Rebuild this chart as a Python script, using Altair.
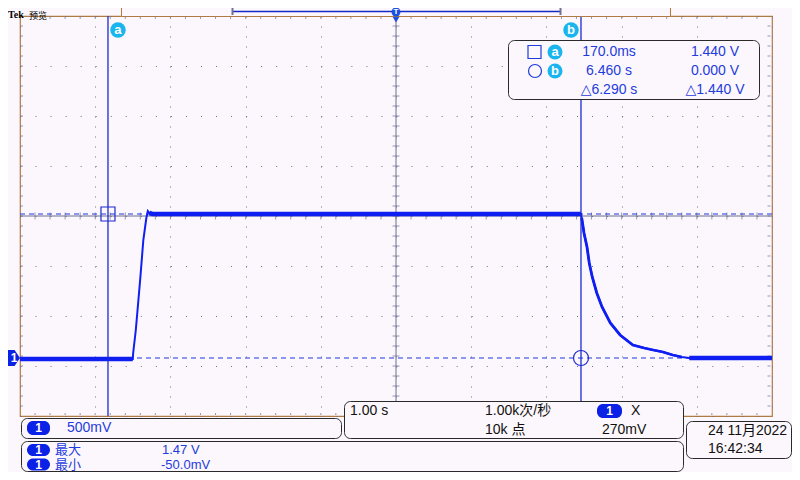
import altair as alt
import pandas as pd

# ---------------- data read from the screen ----------------
# channel 1 trace (time in s, relative to left edge -1 s; volts)
time_s = [-1.00, 0.50, 0.505, 0.54, 0.60, 0.64, 0.68, 0.70, 0.72, 0.76,
          6.46, 6.47, 6.50, 6.54, 6.57, 6.61, 6.67, 6.74, 6.85, 6.98,
          7.15, 7.30, 7.42, 7.55, 7.68, 7.80, 7.90, 9.00]
volts = [-0.01, -0.01, 0.05, 0.28, 0.80, 1.18, 1.40, 1.47, 1.45, 1.44,
         1.44, 1.40, 1.25, 1.11, 0.95, 0.81, 0.65, 0.51, 0.35, 0.23,
         0.13, 0.10, 0.08, 0.06, 0.03, 0.01, 0.00, 0.00]
phase = ["low", "low", "rise", "rise", "rise", "rise", "rise", "rise", "high", "high",
         "high", "fall", "fall", "fall", "fall", "fall", "fall", "fall", "fall", "fall",
         "fall", "fall", "fall", "fall", "fall", "fall", "settled", "settled"]

# cursors
cursor_name = ["a", "b"]
cursor_time_s = [0.17, 6.46]
cursor_volts = [1.44, 0.00]

# graticule: 1 s/div, 500 mV/div, 10 x 8 divisions
center_time_s = 4.0
center_volts = 1.42
sec_per_div = 1.0
volt_per_div = 0.5
x_domain = [-1.0, 9.0]
y_domain = [-0.58, 3.42]

# texts
readout_time = ["170.0ms", "6.460 s", "\u25b36.290 s"]
readout_volt = ["1.440 V", "0.000 V", "\u25b31.440 V"]
scale_text = "500mV"
horiz_text = ["1.00 s", "1.00k次/秒", "10k 点", "270mV"]
trig_symbol = "X"
meas_name = ["最大", "最小"]
meas_value = ["1.47 V", "-50.0mV"]
date_text = ["24 11月2022", "16:42:34"]
title_brand = "Tek"
title_mode = "预览"

# ---------------- styles / layout ----------------
W, H = 752, 400
BG = "#FCF7FC"
BORDER = "#B07A45"
GRID = "#6C7090"
TRACE = "#0F1FF2"
CURSOR = "#1B2BD0"
DASH = "#2038E0"
TXT_BLUE = "#1E3CDC"
CYAN = "#19B5EE"
BADGE = "#0B22E6"
BOX = "#2A2A2A"
INK = "#111111"
FONT = "Liberation Sans, DejaVu Sans, Noto Sans CJK SC"

XS = alt.Scale(domain=x_domain, nice=False, zero=False)
YS = alt.Scale(domain=y_domain, nice=False, zero=False)
NOAX = None

trace = pd.DataFrame({"t": time_s, "v": volts, "phase": phase})
cursors = pd.DataFrame({"name": cursor_name, "t": cursor_time_s, "v": cursor_volts})

x_grid = [center_time_s + sec_per_div * k for k in range(-5, 6)]
y_grid = [center_volts + volt_per_div * k for k in range(-4, 5)]

layers = []

# graticule (axis grids)
layers.append(
    alt.Chart(trace).mark_point(opacity=0).encode(
        x=alt.X("t:Q", scale=XS, axis=alt.Axis(values=x_grid, grid=True, gridDash=[1, 9],
                                                gridColor=GRID, gridOpacity=1, gridWidth=1,
                                                labels=False, ticks=False, domain=False, title=None)),
        y=alt.Y("v:Q", scale=YS, axis=alt.Axis(values=y_grid, grid=True, gridDash=[1, 14.04],
                                                gridColor=GRID, gridOpacity=1, gridWidth=1,
                                                labels=False, ticks=False, domain=False, title=None)),
    )
)

# center cross lines
layers.append(alt.Chart(pd.DataFrame({"t": [center_time_s]})).mark_rule(color=GRID, strokeWidth=1)
              .encode(x=alt.X("t:Q", scale=XS, axis=NOAX)))
layers.append(alt.Chart(pd.DataFrame({"v": [center_volts]})).mark_rule(color=GRID, strokeWidth=1)
              .encode(y=alt.Y("v:Q", scale=YS, axis=NOAX)))

minor_v = [center_volts + volt_per_div / 5 * k for k in range(-19, 20)]
minor_t = [center_time_s + sec_per_div / 5 * k for k in range(-24, 25)]
layers.append(alt.Chart(pd.DataFrame({"v": minor_v, "t": center_time_s}))
              .mark_tick(orient="horizontal", size=7, thickness=1, color=GRID)
              .encode(x=alt.X("t:Q", scale=XS, axis=NOAX), y=alt.Y("v:Q", scale=YS, axis=NOAX)))
layers.append(alt.Chart(pd.DataFrame({"t": minor_t, "v": center_volts}))
              .mark_tick(orient="vertical", size=7, thickness=1, color=GRID)
              .encode(x=alt.X("t:Q", scale=XS, axis=NOAX), y=alt.Y("v:Q", scale=YS, axis=NOAX)))
# edge ticks
layers.append(alt.Chart(pd.DataFrame({"t": minor_t, "v": y_domain[1]}))
              .mark_tick(orient="vertical", size=2, thickness=1, color=GRID, yOffset=2)
              .encode(x=alt.X("t:Q", scale=XS, axis=NOAX), y=alt.Y("v:Q", scale=YS, axis=NOAX)))
layers.append(alt.Chart(pd.DataFrame({"t": minor_t, "v": y_domain[0]}))
              .mark_tick(orient="vertical", size=2, thickness=1, color=GRID, yOffset=-2)
              .encode(x=alt.X("t:Q", scale=XS, axis=NOAX), y=alt.Y("v:Q", scale=YS, axis=NOAX)))
layers.append(alt.Chart(pd.DataFrame({"v": minor_v, "t": x_domain[0]}))
              .mark_tick(orient="horizontal", size=2, thickness=1, color=GRID, xOffset=2)
              .encode(x=alt.X("t:Q", scale=XS, axis=NOAX), y=alt.Y("v:Q", scale=YS, axis=NOAX)))
layers.append(alt.Chart(pd.DataFrame({"v": minor_v, "t": x_domain[1]}))
              .mark_tick(orient="horizontal", size=3, thickness=1, color=GRID, xOffset=-3)
              .encode(x=alt.X("t:Q", scale=XS, axis=NOAX), y=alt.Y("v:Q", scale=YS, axis=NOAX)))

# horizontal cursor (dashed) lines
layers.append(alt.Chart(cursors).mark_rule(color=DASH, strokeWidth=1.2, strokeDash=[5, 4])
              .encode(y=alt.Y("v:Q", scale=YS, axis=NOAX)))

# trace
layers.append(alt.Chart(trace).mark_line(color=TRACE, strokeWidth=2.0, interpolate="linear")
              .encode(x=alt.X("t:Q", scale=XS, axis=NOAX), y=alt.Y("v:Q", scale=YS, axis=NOAX),
                      order="t:Q"))
layers.append(alt.Chart(trace).transform_filter(
    alt.FieldOneOfPredicate(field="phase", oneOf=["fall"]))
    .mark_line(color=TRACE, strokeWidth=2.8)
    .encode(x=alt.X("t:Q", scale=XS, axis=NOAX), y=alt.Y("v:Q", scale=YS, axis=NOAX), order="t:Q"))
layers.append(alt.Chart(trace).transform_filter(
    alt.FieldOneOfPredicate(field="phase", oneOf=["low", "high", "settled"]))
    .mark_line(color=TRACE, strokeWidth=4.5)
    .encode(x=alt.X("t:Q", scale=XS, axis=NOAX), y=alt.Y("v:Q", scale=YS, axis=NOAX),
            detail="phase:N", order="t:Q"))

# vertical cursor lines
layers.append(alt.Chart(cursors).mark_rule(color=CURSOR, strokeWidth=1.3)
              .encode(x=alt.X("t:Q", scale=XS, axis=NOAX)))

# cursor intersection markers
for nm, shp, sz in [("a", "square", 196), ("b", "circle", 225)]:
    layers.append(alt.Chart(cursors).transform_filter(alt.datum.name == nm)
                  .mark_point(shape=shp, size=sz, filled=False, color=CURSOR, strokeWidth=1.2, opacity=1)
                  .encode(x=alt.X("t:Q", scale=XS, axis=NOAX), y=alt.Y("v:Q", scale=YS, axis=NOAX)))

# cursor label bubbles at the top of the graticule
for nm, off in [("a", 10), ("b", -10)]:
    sub = alt.Chart(cursors).transform_filter(alt.datum.name == nm)
    layers.append(sub.mark_point(shape="circle", size=240, filled=True, color=CYAN, opacity=1, xOffset=off)
                  .encode(x=alt.X("t:Q", scale=XS, axis=NOAX), y=alt.value(14)))
    layers.append(sub.mark_text(color="white", fontSize=13, fontWeight="bold", font=FONT,
                                baseline="middle", xOffset=off, dy=0)
                  .encode(x=alt.X("t:Q", scale=XS, axis=NOAX), y=alt.value(14), text="name:N"))

# channel-1 ground marker
gnd = pd.DataFrame({"t": [x_domain[0]], "v": [0.0], "lab": ["1"]})
layers.append(alt.Chart(gnd).mark_point(shape="M-0.875,-1 L0.2,-1 L0.875,0 L0.2,1 L-0.875,1 Z",
                                        size=256, filled=True, color=BADGE, opacity=1, xOffset=-7)
              .encode(x=alt.X("t:Q", scale=XS, axis=NOAX), y=alt.Y("v:Q", scale=YS, axis=NOAX)))
layers.append(alt.Chart(gnd).mark_text(color="white", fontSize=12, fontWeight="bold", font=FONT,
                                       baseline="middle", xOffset=-6)
              .encode(x=alt.X("t:Q", scale=XS, axis=NOAX), y=alt.Y("v:Q", scale=YS, axis=NOAX), text="lab:N"))

# trigger position pointer
layers.append(alt.Chart(pd.DataFrame({"t": [center_time_s]}))
              .mark_point(shape="triangle-down", size=70, filled=True, color="#1E50E0", opacity=1)
              .encode(x=alt.X("t:Q", scale=XS, axis=NOAX), y=alt.value(3)))

# ---------------- screen chrome (pixel positions relative to graticule origin) ----------------
boxes = pd.DataFrame({
    "x1": [101.5, 488.5, 1.5, 324.5, 1.5, 666.5],
    "x2": [650.5, 739.5, 321.5, 663.5, 663.5, 771.5],
    "y1": [-14.5, 24.5, 402.5, 385.5, 425.5, 405.5],
    "y2": [0.5, 83.5, 422.5, 422.5, 455.5, 442.5],
    "r": [0, 6, 6, 6, 6, 6],
})
for r in [0, 6]:
    layers.append(alt.Chart(boxes).transform_filter(alt.datum.r == r)
                  .mark_rect(cornerRadius=r, fill=BG, stroke=(BORDER if r == 0 else BOX), strokeWidth=1)
                  .encode(x=alt.X("x1:Q", scale=None, axis=None), x2="x2:Q",
                          y=alt.Y("y1:Q", scale=None, axis=None), y2="y2:Q"))

# record bar contents
layers.append(alt.Chart(pd.DataFrame({"k": [0]})).mark_rule(color="#1428C8", strokeWidth=1.5)
              .encode(x=alt.value(212), x2=alt.value(541), y=alt.value(-4.5)))
for xb in [212.5, 540.5]:
    layers.append(alt.Chart(pd.DataFrame({"k": [0]})).mark_rule(color="#707090", strokeWidth=2)
                  .encode(x=alt.value(xb), y=alt.value(-8), y2=alt.value(-1)))
layers.append(alt.Chart(pd.DataFrame({"k": [0]})).mark_point(shape="circle", size=81, filled=True,
                                                              color="#1E50E0", opacity=1)
              .encode(x=alt.value(376), y=alt.value(-4)))
layers.append(alt.Chart(pd.DataFrame({"k": ["T"]})).mark_text(color="white", fontSize=8, fontWeight="bold",
                                                               font=FONT, baseline="middle")
              .encode(x=alt.value(376), y=alt.value(-4), text="k:N"))

# badges "1"
badges = pd.DataFrame({"x1": [7, 577, 7, 7], "x2": [30, 602, 30, 30],
                       "y1": [405, 388, 428, 442.5], "y2": [419, 402, 440, 454.5], "lab": ["1"] * 4})
layers.append(alt.Chart(badges).mark_rect(cornerRadius=6, fill=BADGE)
              .encode(x=alt.X("x1:Q", scale=None, axis=None), x2="x2:Q",
                      y=alt.Y("y1:Q", scale=None, axis=None), y2="y2:Q"))
badges["cx"] = (badges["x1"] + badges["x2"]) / 2
badges["cy"] = (badges["y1"] + badges["y2"]) / 2
layers.append(alt.Chart(badges).mark_text(color="white", fontSize=12, fontWeight="bold", font=FONT,
                                          baseline="middle")
              .encode(x=alt.X("cx:Q", scale=None, axis=None), y=alt.Y("cy:Q", scale=None, axis=None),
                      text="lab:N"))

# readout symbols
layers.append(alt.Chart(pd.DataFrame({"k": [0]})).mark_point(shape="square", size=169, filled=False,
                                                              color=TXT_BLUE, strokeWidth=1.2, opacity=1)
              .encode(x=alt.value(514.5), y=alt.value(36)))
layers.append(alt.Chart(pd.DataFrame({"k": [0]})).mark_point(shape="circle", size=169, filled=False,
                                                              color=TXT_BLUE, strokeWidth=1.2, opacity=1)
              .encode(x=alt.value(515), y=alt.value(55)))
rl = pd.DataFrame({"name": cursor_name, "x": [535, 535], "y": [36, 55]})
layers.append(alt.Chart(rl).mark_point(shape="circle", size=225, filled=True, color=CYAN, opacity=1)
              .encode(x=alt.X("x:Q", scale=None, axis=None), y=alt.Y("y:Q", scale=None, axis=None)))
layers.append(alt.Chart(rl).mark_text(color="white", fontSize=13, fontWeight="bold", font=FONT,
                                      baseline="middle")
              .encode(x=alt.X("x:Q", scale=None, axis=None), y=alt.Y("y:Q", scale=None, axis=None),
                      text="name:N"))

def text_layer(rows, color, size=14, align="left", weight="normal", font=FONT):
    df = pd.DataFrame(rows, columns=["text", "x", "y"])
    return (alt.Chart(df).mark_text(color=color, fontSize=size, align=align, baseline="middle",
                                    fontWeight=weight, font=font)
            .encode(x=alt.X("x:Q", scale=None, axis=None), y=alt.Y("y:Q", scale=None, axis=None),
                    text="text:N"))

layers.append(text_layer([(readout_time[i], 589, [36, 55, 74][i]) for i in range(3)], TXT_BLUE, align="center"))
layers.append(text_layer([(readout_volt[i], 695, [36, 55, 74][i]) for i in range(3)], TXT_BLUE, align="center"))
layers.append(text_layer([(scale_text, 47, 412)], TXT_BLUE))
layers.append(text_layer([(meas_name[0], 35, 434), (meas_value[0], 142, 434),
                          (meas_name[1], 35, 448.5), (meas_value[1], 141, 448.5)], TXT_BLUE, size=13))
layers.append(text_layer([(horiz_text[0], 330, 395), (horiz_text[1], 465, 395),
                          (horiz_text[2], 465, 414), (horiz_text[3], 582, 414),
                          (trig_symbol, 611, 395),
                          (date_text[0], 688, 415), (date_text[1], 688, 433)], INK))
layers.append(text_layer([(title_brand, -12, -1)], "#000000", size=10, weight="bold",
                         font="Liberation Serif, DejaVu Serif"))
layers.append(text_layer([(title_mode, 9, 0)], "#000000", size=9,
                         font="Noto Sans CJK SC"))

chart = (alt.layer(*layers)
         .resolve_scale(x="independent", y="independent")
         .properties(width=W, height=H, background=BG,
                     padding={"left": 12, "top": 8, "right": 20, "bottom": 56},
                     autosize=alt.AutoSizeParams(type="none"))
         .configure_view(fill=BG, stroke=BORDER, strokeWidth=1.2))

chart.save("out.html", embed_options={"renderer": "svg", "actions": False})
